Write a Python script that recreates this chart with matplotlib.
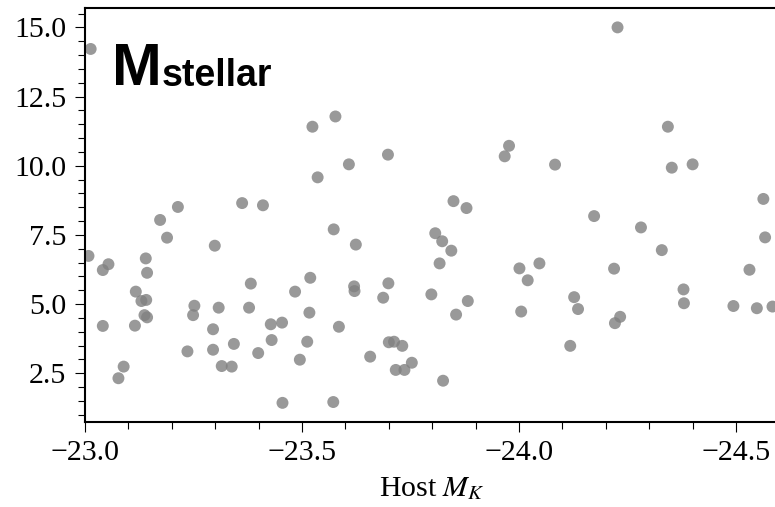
import matplotlib as mpl
mpl.use("Agg")
import matplotlib.pyplot as plt
from matplotlib.ticker import MultipleLocator

# Times-like font for the axes, stix for the math
mpl.rcParams["font.family"] = "serif"
mpl.rcParams["font.serif"] = ["Liberation Serif", "DejaVu Serif"]
mpl.rcParams["mathtext.fontset"] = "stix"

# host absolute K magnitude vs stellar mass value
host_mk = [
    -23.013, -23.524, -23.577, -23.698, -23.608, -23.536, -23.173, -23.214,
    -23.362, -23.410, -23.189, -23.299, -23.573, -23.624, -23.008, -23.054,
    -23.140, -24.227, -24.343, -23.977, -23.967, -24.083, -24.352, -24.400,
    -24.563, -24.567, -23.849, -23.879, -24.173, -24.281, -24.329, -23.807,
    -23.823, -23.844, -23.817, -24.047, -23.041, -23.143, -23.117, -23.130,
    -23.141, -23.137, -23.143, -23.041, -23.115, -23.089, -23.077, -23.252,
    -23.249, -23.236, -23.308, -23.295, -23.295, -23.315, -23.338, -23.343,
    -23.382, -23.378, -23.399, -23.428, -23.430, -23.454, -23.455, -23.484,
    -23.519, -23.517, -23.512, -23.495, -23.572, -23.585, -23.620, -23.621,
    -23.657, -23.687, -23.699, -23.700, -23.712, -23.716, -23.731, -23.736,
    -23.753, -23.825, -23.798, -23.882, -23.855, -24.001, -24.020, -24.005,
    -24.127, -24.136, -24.118, -24.219, -24.233, -24.221, -24.379, -24.380,
    -24.531, -24.494, -24.548, -24.584,
]
m_stellar = [
    14.22, 11.41, 11.78, 10.40, 10.05, 9.58, 8.04, 8.51,
    8.65, 8.57, 7.40, 7.11, 7.70, 7.15, 6.74, 6.44,
    6.65, 15.00, 11.41, 10.72, 10.34, 10.04, 9.93, 10.05,
    8.80, 7.41, 8.72, 8.47, 8.18, 7.77, 6.95, 7.56,
    7.27, 6.93, 6.47, 6.47, 6.23, 6.13, 5.45, 5.11,
    5.15, 4.60, 4.52, 4.21, 4.22, 2.74, 2.32, 4.94,
    4.60, 3.29, 4.87, 4.09, 3.35, 2.76, 2.74, 3.56,
    5.74, 4.87, 3.23, 4.27, 3.70, 4.33, 1.43, 5.45,
    5.95, 4.69, 3.64, 2.99, 1.46, 4.18, 5.64, 5.47,
    3.10, 5.23, 5.75, 3.62, 3.64, 2.62, 3.49, 2.62,
    2.88, 2.23, 5.35, 5.11, 4.62, 6.29, 5.86, 4.73,
    5.25, 4.82, 3.49, 6.28, 4.54, 4.31, 5.53, 5.03,
    6.24, 4.93, 4.85, 4.91,
]

fig = plt.figure(figsize=(7.75, 5.07), dpi=100)
# the right edge of the axes runs just past the figure
ax = fig.add_axes([0.1097, 0.1683, 0.896, 0.8159])

ax.scatter(host_mk, m_stellar, s=74, color="gray", alpha=0.8, edgecolors="none")

ax.set_xlim(-23.0, -24.6)
ax.set_ylim(0.75, 15.7)
ax.xaxis.set_major_locator(MultipleLocator(0.5))
ax.xaxis.set_minor_locator(MultipleLocator(0.1))
ax.yaxis.set_major_locator(MultipleLocator(2.5))
ax.yaxis.set_minor_locator(MultipleLocator(0.5))

ax.tick_params(which="both", direction="out", labelsize=21.5, width=0.8)
ax.tick_params(which="major", length=7.5, pad=6)
ax.tick_params(which="minor", length=5)
for s in ax.spines.values():
    s.set_linewidth(1.5)
ax.spines["right"].set_visible(False)

ax.set_xlabel("Host $M_K$", fontsize=21.5, labelpad=6)

fig.text(112 / 775, 1 - 85 / 507, "M", fontsize=43, fontweight="bold",
         family="Liberation Sans", va="baseline", ha="left")
fig.text(161.5 / 775, 1 - 86 / 507, "stellar", fontsize=27, fontweight="bold",
         family="Liberation Sans", va="baseline", ha="left")

plt.savefig("out.png", dpi=100)
